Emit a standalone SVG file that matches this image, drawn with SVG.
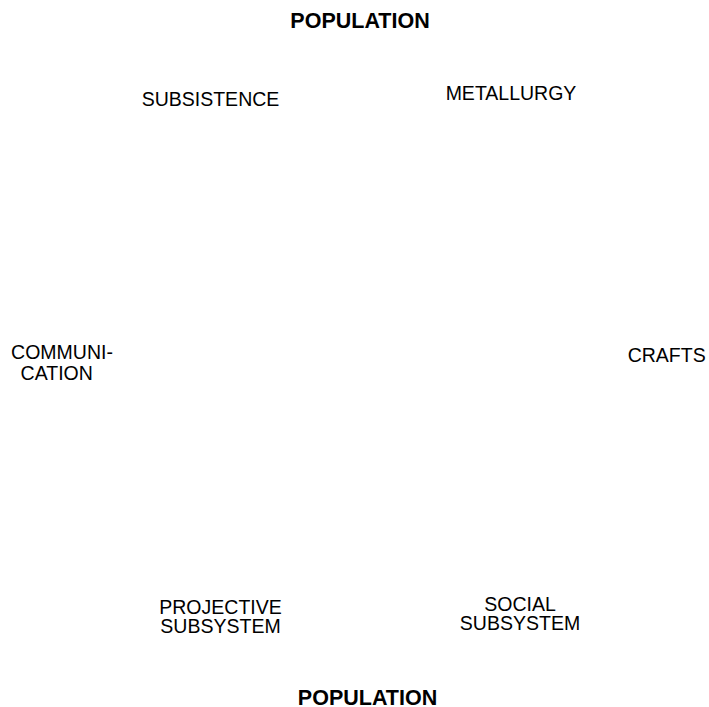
<svg xmlns="http://www.w3.org/2000/svg" width="709" height="707" viewBox="0 0 709 707">
<style>
text{font-family:"Liberation Sans",Arial,sans-serif;fill:#000;text-anchor:middle}
.r{font-size:19.5px}
.b{font-size:21.5px;font-weight:bold}
</style>
<rect width="709" height="707" fill="#fff"/>
<g id="connectors"></g>
<g id="population-top"><text class="b" x="360" y="28">POPULATION</text></g>
<g id="subsistence"><text class="r" x="210.5" y="106">SUBSISTENCE</text></g>
<g id="metallurgy"><text class="r" x="511" y="100">METALLURGY</text></g>
<g id="communication"><text class="r" x="62" y="359">COMMUNI-</text><text class="r" x="56.7" y="379.5">CATION</text></g>
<g id="crafts"><text class="r" x="666.7" y="362">CRAFTS</text></g>
<g id="projective"><text class="r" x="220.5" y="614">PROJECTIVE</text><text class="r" x="220.5" y="633">SUBSYSTEM</text></g>
<g id="social"><text class="r" x="520" y="611">SOCIAL</text><text class="r" x="520" y="630">SUBSYSTEM</text></g>
<g id="population-bottom"><text class="b" x="367.5" y="704.5">POPULATION</text></g>
</svg>
